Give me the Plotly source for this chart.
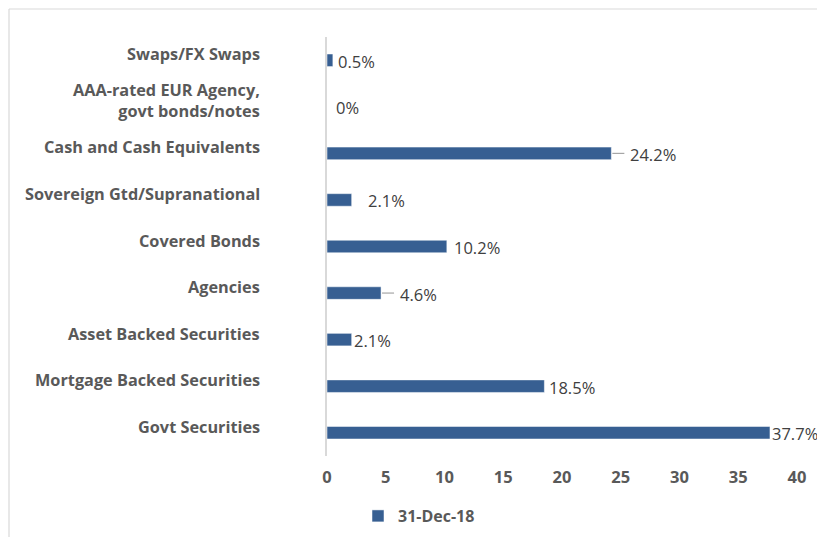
import plotly.graph_objects as go

categories = ["Swaps/FX Swaps", "AAA-rated EUR Agency,<br>govt bonds/notes", "Cash and Cash Equivalents",
              "Sovereign Gtd/Supranational", "Covered Bonds", "Agencies", "Asset Backed Securities",
              "Mortgage Backed Securities", "Govt Securities"]
values = [0.5, 0, 24.2, 2.1, 10.2, 4.6, 2.1, 18.5, 37.7]
value_labels = ["0.5%", "0%", "24.2%", "2.1%", "10.2%", "4.6%", "2.1%", "18.5%", "37.7%"]
series_name = "31-Dec-18"
x_ticks = [0, 5, 10, 15, 20, 25, 30, 35, 40]

# styling (pixel offsets of data labels, leader lines)
label_gap = [4, 8, 18, 15, 6, 18, 1, 4, 1]
leader = [False, False, True, False, False, True, False, False, False]

W, H = 817, 537
ML, MR, MT, MB = 327, 20, 37, 81
PW, PH = W - ML - MR, H - MT - MB

BAR = "#375F92"
FONT = "Open Sans"

fig = go.Figure()
fig.add_trace(go.Bar(
    x=values, y=categories, orientation="h", name="<b>%s</b>" % series_name,
    marker=dict(color=BAR, line=dict(color="white", width=0.5)),
    width=0.27, showlegend=True,
))

ann = []
for c in categories:
    ann.append(dict(x=(262 - ML) / PW, xref="paper", y=c, yref="y", text="<b>%s</b>" % c,
                    showarrow=False, xanchor="right", yanchor="middle", yshift=6, align="right",
                    font=dict(family=FONT, size=16.3, color="#595959")))
for c, v, t, g in zip(categories, values, value_labels, label_gap):
    ann.append(dict(x=v, xref="x", y=c, yref="y", text=t, showarrow=False, xanchor="left",
                    yanchor="middle", xshift=g - 1, yshift=-1,
                    font=dict(family=FONT, size=16.5, color="#404040")))
fig.update_layout(annotations=ann)

shapes = []
for c, v, l in zip(categories, values, leader):
    if l:
        shapes.append(dict(type="line", xref="x", yref="y", xsizemode="pixel", xanchor=v,
                           x0=1, x1=13, y0=c, y1=c, line=dict(color="#A6A6A6", width=1.2)))
# chart frame (top and left edges)
fx = (9 - ML) / PW
fy_top = 1 + (MT - 9) / PH
fy_bot = -(MB) / PH
shapes.append(dict(type="line", xref="paper", yref="paper", x0=fx, x1=(W - ML) / PW + 0.01,
                   y0=fy_top, y1=fy_top, line=dict(color="#D9D9D9", width=1.2)))
shapes.append(dict(type="line", xref="paper", yref="paper", x0=fx, x1=fx,
                   y0=fy_top, y1=fy_bot - 0.01, line=dict(color="#D9D9D9", width=1.2)))
fig.update_layout(shapes=shapes)

fig.update_layout(
    width=W, height=H,
    margin=dict(l=ML, r=MR, t=MT, b=MB, autoexpand=False),
    plot_bgcolor="white", paper_bgcolor="white",
    xaxis=dict(range=[0, 40], tickvals=x_ticks, ticktext=["<b>%d</b>" % t for t in x_ticks],
               showgrid=False, zeroline=False, showline=False, ticklabelstandoff=9,
               tickfont=dict(family=FONT, size=16.5, color="#595959")),
    yaxis=dict(autorange="reversed", showticklabels=False, showgrid=False, zeroline=False,
               showline=True, linecolor="#D9D9D9", linewidth=2),
    legend=dict(orientation="h", x=(358 - ML) / PW, xanchor="left", y=-(516 - 456) / PH,
                yanchor="middle", font=dict(family=FONT, size=16, color="#595959"),
                bgcolor="rgba(0,0,0,0)"),
    bargap=0.73,
)

fig.write_html("out.html")
